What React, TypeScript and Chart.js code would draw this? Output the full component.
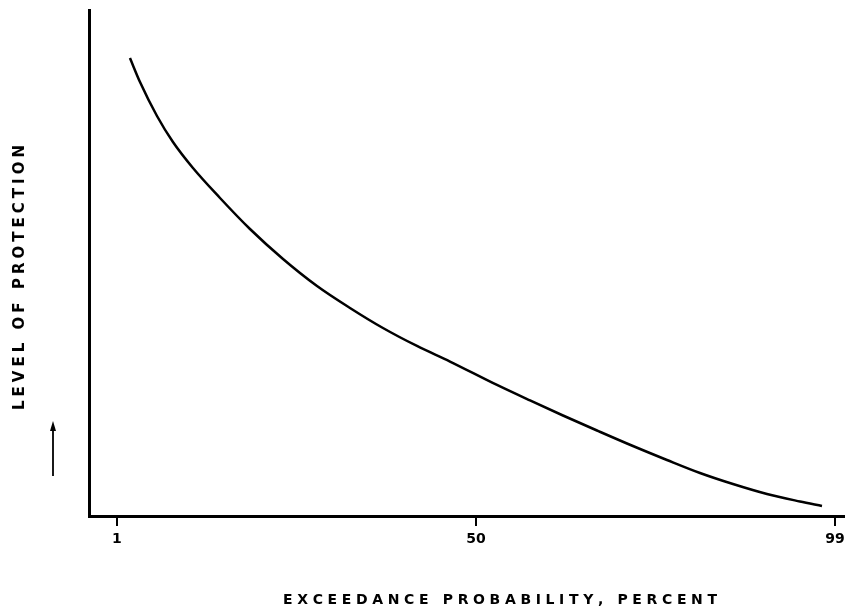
import React, { useEffect, useRef } from "react";
import { Chart, registerables } from "chart.js";

Chart.register(...registerables);

// Exceedance probability (percent) and relative level of protection
const probability = [2.77, 4.14, 6.46, 8.64, 11.37, 15.06, 19.15, 23.66, 28.3, 32.8, 37.3, 41.94, 46.45, 52.86, 57.37, 61.87, 66.51, 71.42, 76.06, 80.57, 85.07, 89.71, 94.21, 97.22];
const protection = [90.51, 85.77, 79.05, 73.91, 68.77, 62.85, 56.72, 50.79, 45.45, 41.11, 37.15, 33.6, 30.53, 25.89, 22.83, 19.86, 16.9, 13.83, 11.07, 8.5, 6.32, 4.35, 2.87, 1.98];
const xTickValues = [1, 50, 99];
const xTitle = "EXCEEDANCE PROBABILITY, PERCENT";
const yTitle = "LEVEL OF PROTECTION";

const FAMILY = "'DejaVu Sans', sans-serif";

function drawSpaced(ctx: CanvasRenderingContext2D, text: string, x0: number, y: number, width: number) {
  ctx.letterSpacing = "0px";
  const chars = Array.from(text);
  const natural = chars.reduce((s, c) => s + ctx.measureText(c).width, 0);
  const gap = (width - natural) / (chars.length - 1);
  let x = x0;
  for (const c of chars) {
    ctx.fillText(c, x, y);
    x += ctx.measureText(c).width + gap;
  }
}

const annotations = {
  id: "annotations",
  afterDraw(chart: any) {
    const ctx = chart.ctx as CanvasRenderingContext2D;
    ctx.save();
    ctx.fillStyle = "#000";
    ctx.textBaseline = "middle";
    ctx.textAlign = "left";
    // x title
    ctx.font = `bold 14px ${FAMILY}`;
    drawSpaced(ctx, xTitle, 283, 600, 434);
    // y title (rotated)
    ctx.font = `bold 15px ${FAMILY}`;
    ctx.save();
    ctx.translate(20, 410);
    ctx.rotate(-Math.PI / 2);
    drawSpaced(ctx, yTitle, 0, 0, 265);
    ctx.restore();
    // arrow
    ctx.strokeStyle = "#000";
    ctx.lineWidth = 1.8;
    ctx.beginPath();
    ctx.moveTo(53, 476);
    ctx.lineTo(53, 428);
    ctx.stroke();
    ctx.beginPath();
    ctx.moveTo(53, 421);
    ctx.lineTo(50, 431);
    ctx.lineTo(56, 431);
    ctx.closePath();
    ctx.fill();
    ctx.restore();
  },
};

export default function App() {
  const ref = useRef<HTMLCanvasElement | null>(null);
  useEffect(() => {
    if (!ref.current) return;
    const chart = new Chart(ref.current, {
      type: "line",
      data: {
        datasets: [
          {
            data: probability.map((p, i) => ({ x: p, y: protection[i] })),
            borderColor: "#000",
            borderWidth: 2.5,
            pointRadius: 0,
            cubicInterpolationMode: "monotone",
            fill: false,
          },
        ],
      },
      options: {
        animation: false,
        responsive: false,
        devicePixelRatio: 1,
        layout: { padding: { top: 10, right: 0, left: 0, bottom: 0 } },
        plugins: { legend: { display: false }, tooltip: { enabled: false } },
        scales: {
          x: {
            type: "linear",
            min: -2.82,
            max: 100.36,
            afterFit: (s: any) => {
              s.height = 98;
              s.paddingLeft = 0;
              s.paddingRight = 0;
            },
            afterBuildTicks: (s: any) => { s.ticks = xTickValues.map((v) => ({ value: v })); },
            border: { display: true, color: "#000", width: 3 },
            grid: { drawOnChartArea: false, drawTicks: true, tickLength: 10, color: "#000", lineWidth: 2 },
            ticks: {
              color: "#000",
              padding: 5,
              maxRotation: 0,
              autoSkip: false,
              font: { family: FAMILY, size: 14, weight: "bold" },
              callback: (v: any) => String(v),
            },
          },
          y: {
            type: "linear",
            min: 0,
            max: 100,
            afterFit: (s: any) => {
              s.width = 89;
              s.paddingTop = 0;
              s.paddingBottom = 0;
            },
            border: { display: true, color: "#000", width: 3 },
            grid: { display: false },
            ticks: { display: false },
          },
        },
      },
      plugins: [annotations],
    });
    return () => chart.destroy();
  }, []);
  return (
    <div style={{ position: "absolute", left: 0, top: 0, width: 845, height: 614, background: "#fff" }}>
      <canvas ref={ref} width={845} height={614} style={{ width: 845, height: 614 }} />
    </div>
  );
}
